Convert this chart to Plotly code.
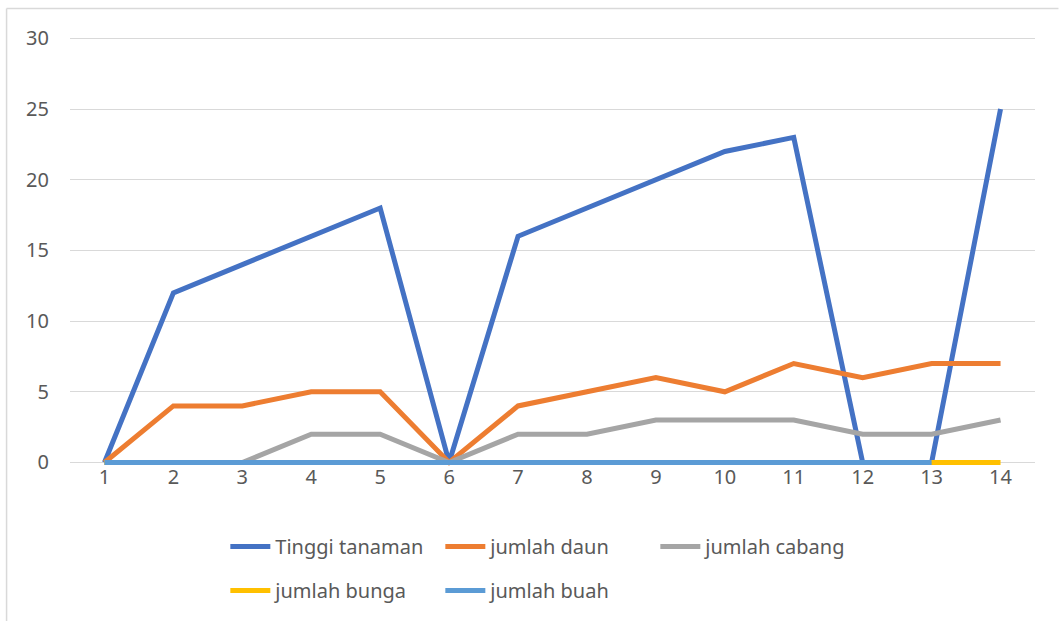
import plotly.graph_objects as go

categories = [str(i) for i in range(1, 15)]
tinggi = [0, 12, 14, 16, 18, 0, 16, 18, 20, 22, 23, 0, 0, 25]
daun = [0, 4, 4, 5, 5, 0, 4, 5, 6, 5, 7, 6, 7, 7]
cabang = [0, 0, 0, 2, 2, 0, 2, 2, 3, 3, 3, 2, 2, 3]
bunga = [0] * 14
buah = [0] * 13 + [None]

series = [
    ("Tinggi tanaman", tinggi, "#4472C4", "legend"),
    ("jumlah daun", daun, "#ED7D31", "legend"),
    ("jumlah cabang", cabang, "#A5A5A5", "legend"),
    ("jumlah bunga", bunga, "#FFC000", "legend2"),
    ("jumlah buah", buah, "#5B9BD5", "legend2"),
]

fig = go.Figure()
for name, vals, col, lg in series:
    fig.add_trace(go.Scatter(x=categories, y=vals, name=name, mode="lines",
                             line=dict(color=col, width=5), connectgaps=False,
                             legend=lg))

W, H = 1059, 621
Y0PX, Y30PX = 462, 38          # pixel rows of 0 and 30
k = (Y0PX - Y30PX) / 30.0      # px per unit
YMIN, YMAX = -0.25, 30.1
L, R = 69.5, 23.5
T = Y30PX - (YMAX - 30) * k
B = H - (Y0PX + (0 - YMIN) * k)
pw, ph = W - L - R, H - T - B

FONT = "Noto Sans"
TXT = "#595959"
leg_common = dict(orientation="h", xanchor="left", yanchor="middle",
                  x=(225 - L) / pw, entrywidth=160, entrywidthmode="pixels",
                  itemwidth=40, bgcolor="rgba(0,0,0,0)",
                  font=dict(family=FONT, size=20, color=TXT))

fig.update_layout(
    width=W, height=H,
    margin=dict(l=L, r=R, t=T, b=B, autoexpand=False),
    paper_bgcolor="white", plot_bgcolor="white",
    font=dict(family=FONT, size=20, color=TXT),
    xaxis=dict(type="category", range=[-0.5, 13.5], showgrid=False,
               showline=False, ticks="", zeroline=False,
               ticklabelstandoff=-3,
               tickfont=dict(size=20, color=TXT)),
    yaxis=dict(range=[YMIN, YMAX], tickvals=[0, 5, 10, 15, 20, 25, 30],
               showgrid=True, gridcolor="#D9D9D9",
               gridwidth=1.3, zeroline=False, showline=False, ticks="",
               ticklabelstandoff=20, tickfont=dict(size=20, color=TXT)),
    legend=dict(y=(ph - (546 - T)) / ph, **leg_common),
    legend2=dict(y=(ph - (590 - T)) / ph, **leg_common),
    showlegend=True,
)

fig.add_shape(type="line", xref="paper", yref="paper",
              x0=(6 - L) / pw, x1=(W - L) / pw, y0=1 + (T - 8) / ph, y1=1 + (T - 8) / ph,
              line=dict(color="#D9D9D9", width=1.5))
fig.add_shape(type="line", xref="paper", yref="paper",
              x0=(6 - L) / pw, x1=(6 - L) / pw, y0=1 + (T - 8) / ph, y1=-B / ph,
              line=dict(color="#D9D9D9", width=1.5))

fig.write_html("out.html", config={"displayModeBar": False},
               post_script="document.body.style.margin='0';document.body.style.overflow='hidden';")
